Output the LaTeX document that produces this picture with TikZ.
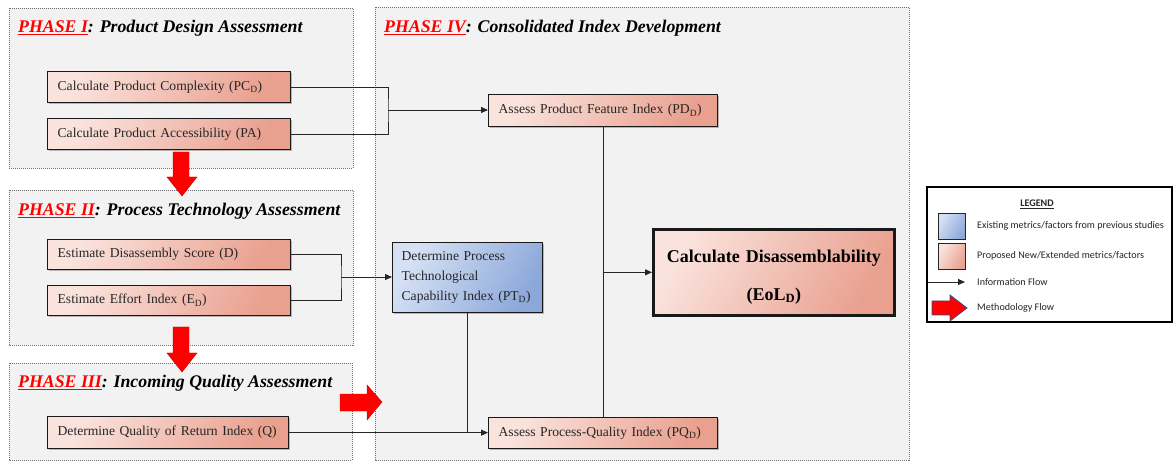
\documentclass[tikz,border=0pt]{standalone}
\usepackage{fontspec}
\setmainfont{Liberation Serif}
\newfontfamily\legendfont{Carlito}
\usetikzlibrary{arrows.meta,shadows}

\definecolor{phasefill}{HTML}{F2F2F2}
\definecolor{phaseline}{HTML}{6E6E6E}
\definecolor{pinkA}{HTML}{FAE3DD}
\definecolor{pinkB}{HTML}{E9A08F}
\definecolor{blueA}{HTML}{D6E1F4}
\definecolor{blueB}{HTML}{8CA8DA}
\definecolor{flowred}{HTML}{FF0000}
\definecolor{flowedge}{HTML}{C00000}
\definecolor{legendblue}{HTML}{2F528F}
\definecolor{inktext}{HTML}{262626}

\tikzset{
  phase/.style={draw=phaseline, fill=phasefill, line width=0.8pt, dash pattern=on 1pt off 1pt},
  phasetitle/.style={anchor=base west, inner sep=0pt,
    font=\fontsize{17.8}{20}\selectfont\bfseries\itshape},
  boxshadow/.style={drop shadow={shadow xshift=1.3pt, shadow yshift=-1.3pt, fill=black, opacity=0.25}},
  metric/.style={draw=black!90, line width=1.3pt, top color=pinkA, bottom color=pinkB,
    shading angle=60, anchor=north west, inner xsep=0pt, inner ysep=0pt,
    align=left, text=inktext, font=\fontsize{13.6}{20}\selectfont, boxshadow},
  existing/.style={metric, top color=blueA, bottom color=blueB, shading angle=60},
  final/.style={metric, line width=2.6pt, align=center,
    text=black, font=\fontsize{18}{38}\selectfont\bfseries},
  link/.style={draw=black!85, line width=0.9pt},
  flow/.style={link, -{Triangle[length=7pt,width=6pt]}},
  blockarrow/.style={fill=flowred, draw=flowedge, line width=0.4pt},
  legendtext/.style={anchor=west, inner sep=0pt, text=black!85,
    font=\legendfont\fontsize{10.1}{12}\selectfont},
  legendswatch/.style={draw=black!85, line width=1pt, shading angle=60,
    minimum width=27pt, minimum height=26pt, inner sep=0pt, anchor=north west},
}

\newcommand{\phasename}[1]{\textcolor{flowred}{\underline{#1}}}
\newcommand{\pad}{\hspace*{10pt}}

\begin{document}
\begin{tikzpicture}[x=1pt, y=-1pt]
  \clip (0,0) rectangle (1173,462);
  \fill[white] (0,0) rectangle (1173,462);

  % phase panels
  \draw[phase] (9,8) rectangle (353,168);
  \draw[phase] (9,190) rectangle (353,345);
  \draw[phase] (9,363) rectangle (352,460);
  \draw[phase] (375,7) rectangle (909,460);

  \node[phasetitle] (t1) at (18,33) {\phasename{PHASE I}: Product Design Assessment};
  \node[phasetitle] (t2) at (18,216) {\phasename{PHASE II}: Process Technology Assessment};
  \node[phasetitle] (t3) at (18,388) {\phasename{PHASE III}: Incoming Quality Assessment};
  \node[phasetitle] (t4) at (384,33) {\phasename{PHASE IV}: Consolidated Index Development};

  % phase I metrics
  \node[metric, minimum height=31pt, text width=243pt] (pc) at (47,71)
    {\pad Calculate Product Complexity (PC\textsubscript{D})};
  \node[metric, minimum height=31pt, text width=243pt] (pa) at (47,118)
    {\pad Calculate Product Accessibility (PA)};

  % phase II metrics
  \node[metric, minimum height=30pt, text width=243pt] (d) at (47,239)
    {\pad Estimate Disassembly Score (D)};
  \node[metric, minimum height=30pt, text width=243pt] (e) at (47,285)
    {\pad Estimate Effort Index (E\textsubscript{D})};

  % phase III metric
  \node[metric, minimum height=32pt, text width=241pt] (q) at (47,416)
    {\pad Determine Quality of Return Index (Q)};

  % phase IV indices
  \node[metric, minimum height=32pt, text width=229pt] (pd) at (488,94)
    {\pad Assess Product Feature Index (PD\textsubscript{D})};
  \node[metric, minimum height=31pt, text width=229pt] (pq) at (488,417)
    {\pad Assess Process-Quality Index (PQ\textsubscript{D})};
  \node[existing, minimum height=70pt, text width=150pt] (pt) at (392,242)
    {\hspace*{9pt}Determine Process\\\hspace*{9pt}Technological\\
     \hspace*{9pt}Capability Index (PT\textsubscript{D})};
  \node[final, minimum height=86pt, text width=241pt] (eol) at (652,228)
    {\rule{0pt}{22pt}Calculate Disassemblability\\(EoL\textsubscript{D})};

  % information flow
  \coordinate (j1) at (388,110);
  \coordinate (j2) at (341,277);
  \draw[link] (pc.east) -| (j1) |- (pa.east);
  \draw[flow] (j1) -- (j1 -| pd.west);
  \draw[link] (d.east) -| (j2) |- (e.east);
  \draw[flow] (j2) -- (j2 -| pt.west);
  \draw[flow] (q.east) -- (q.east -| pq.west);
  \draw[link] (pt.south) -- (pt.south |- q.east);
  \draw[link] (pd.south) -- (pq.north);
  \draw[flow] (pd.south |- eol.west) -- (eol.west);

  % methodology flow
  \draw[blockarrow] (173,152) -- (189,152) -- (189,177) -- (197,177) -- (182,196)
    -- (167,177) -- (173,177) -- cycle;
  \draw[blockarrow] (173,327) -- (189,327) -- (189,353) -- (197,353) -- (182,372)
    -- (167,353) -- (173,353) -- cycle;
  \draw[blockarrow] (340,394) -- (367,394) -- (367,385) -- (382,402) -- (367,420)
    -- (367,411) -- (340,411) -- cycle;

  % legend
  \draw[line width=1.2pt, fill=white] (927,187) rectangle (1172,322);
  \node[inner sep=0pt, font=\legendfont\fontsize{10.1}{12}\selectfont\bfseries,
    text=black!85] (lg) at (1037,204) {\underline{LEGEND}};
  \node[legendswatch, top color=blueA, bottom color=blueB, shading angle=60]
    (lb) at (938,213) {};
  \node[legendtext] (lbt) at (977,226) {Existing metrics/factors from previous studies};
  \node[legendswatch, top color=pinkA, bottom color=pinkB, shading angle=60]
    (lp) at (938,243) {};
  \node[legendtext] (lpt) at (977,256) {Proposed New/Extended metrics/factors};
  \coordinate (la) at (928,282);
  \node[legendtext] (lit) at (977,282) {Information Flow};
  \draw[flow] (la) -- ++(37,0);
  \draw[fill=flowred, draw=legendblue, line width=0.8pt]
    (932,301) -- (950,301) -- (950,295) -- (967,308) -- (950,321) -- (950,315)
    -- (932,315) -- cycle;
  \node[legendtext] (lmt) at (977,308) {Methodology Flow};
\end{tikzpicture}
\end{document}
